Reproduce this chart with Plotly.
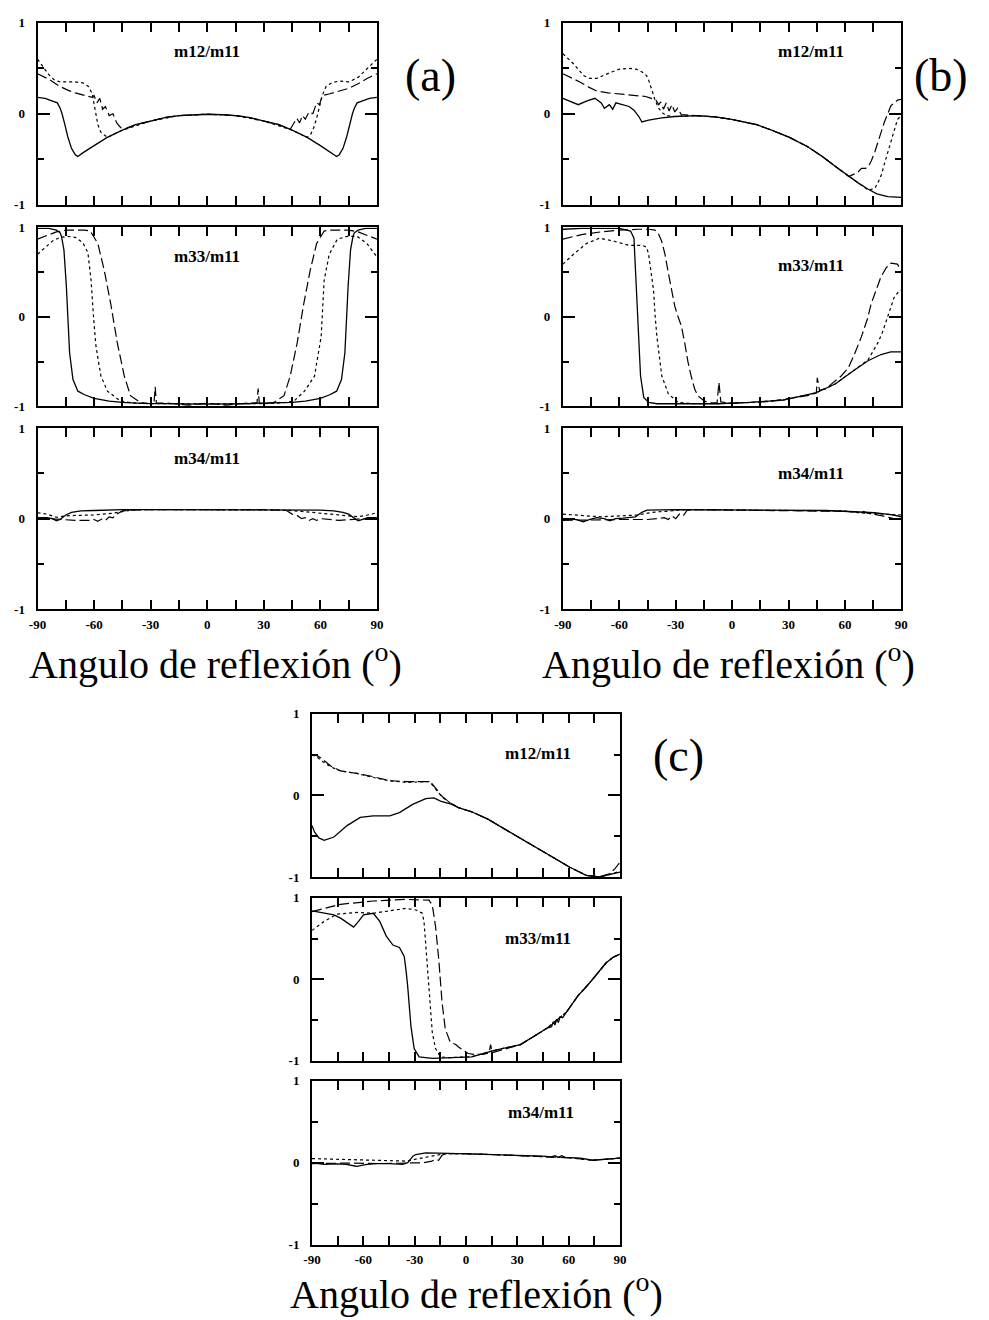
import plotly.graph_objects as go

# ---------------- data (angle in degrees, ratio values) ----------------
# (a) m12/m11
a12_solid_x = [-90, -86, -82, -79.5, -78, -77, -75.5, -74, -72, -70, -68.6, -66, -60, -53, -45, -38, -30, -22, -15, -8, 0, 8, 15, 22, 30, 38, 45, 53, 60, 66, 68.6, 70, 72, 74, 75.5, 77, 78, 79.5, 82, 86, 90]
a12_solid_y = [0.18, 0.17, 0.14, 0.12, 0.06, 0.0, -0.12, -0.25, -0.38, -0.45, -0.47, -0.43, -0.35, -0.26, -0.18, -0.12, -0.08, -0.04, -0.02, -0.01, -0.005, -0.01, -0.02, -0.04, -0.08, -0.12, -0.18, -0.26, -0.35, -0.43, -0.47, -0.45, -0.38, -0.25, -0.12, 0.0, 0.06, 0.12, 0.14, 0.17, 0.18]
a12_dash_x = [-90, -84, -79, -74, -70, -65, -61, -60, -58.5, -57, -55.5, -54, -52, -50, -48, -46, -44, -38, -30, -22, -15, -8, 0, 8, 15, 22, 30, 38, 44, 46, 47.5, 49, 50.5, 52, 54, 56, 58, 59.5, 61, 65, 70, 75, 80, 85, 90]
a12_dash_y = [0.44, 0.38, 0.31, 0.26, 0.23, 0.2, 0.18, 0.2, 0.12, 0.17, 0.05, 0.08, -0.02, 0.0, -0.1, -0.15, -0.17, -0.12, -0.08, -0.04, -0.02, -0.01, -0.005, -0.01, -0.02, -0.04, -0.08, -0.12, -0.17, -0.1, -0.05, -0.1, -0.02, -0.06, 0.02, 0.0, 0.12, 0.1, 0.2, 0.22, 0.25, 0.28, 0.33, 0.39, 0.44]
a12_dot_x = [-90, -87, -84, -81, -78, -74, -70, -66, -63, -61, -59.5, -58, -56.5, -55, -53, -45, -30, -15, 0, 15, 30, 45, 53, 55, 56.5, 58, 59.5, 61, 63, 66, 70, 75, 80, 85, 90]
a12_dot_y = [0.6, 0.52, 0.43, 0.37, 0.35, 0.35, 0.35, 0.34, 0.3, 0.22, 0.05, -0.12, -0.2, -0.23, -0.26, -0.18, -0.08, -0.02, -0.005, -0.02, -0.08, -0.18, -0.26, -0.22, -0.15, -0.05, 0.08, 0.2, 0.3, 0.34, 0.36, 0.35, 0.4, 0.5, 0.6]

# (a) m33/m11
a33_solid_x = [-90, -84, -80, -78, -77.3, -76, -74.7, -73, -71.2, -68.6, -65, -60, -52, -45, -35, -20, 0, 20, 35, 45, 52, 60, 65, 68.6, 71.2, 73, 74.7, 76, 77.3, 78, 80, 84, 90]
a33_solid_y = [0.99, 0.99, 0.97, 0.94, 0.9, 0.75, 0.34, -0.4, -0.7, -0.83, -0.87, -0.91, -0.94, -0.955, -0.965, -0.97, -0.975, -0.97, -0.965, -0.955, -0.94, -0.91, -0.87, -0.83, -0.7, -0.4, 0.34, 0.75, 0.9, 0.94, 0.97, 0.99, 0.99]
a33_dash_x = [-90, -85, -80, -75, -70, -65, -62, -58, -54.6, -51.2, -47.7, -44, -40.7, -35.5, -30, -28.2, -27.6, -27, -20, -10, 0, 10, 20, 26.4, 27, 27.6, 30, 35.5, 40.7, 44, 47.7, 51.2, 54.6, 58, 62, 65, 70, 75, 80, 85, 90]
a33_dash_y = [0.87, 0.91, 0.95, 0.97, 0.97, 0.97, 0.96, 0.82, 0.52, 0.15, -0.29, -0.66, -0.88, -0.955, -0.97, -0.96, -0.78, -0.96, -0.965, -0.985, -0.965, -0.985, -0.965, -0.96, -0.8, -0.96, -0.97, -0.955, -0.88, -0.66, -0.29, 0.15, 0.52, 0.82, 0.96, 0.97, 0.97, 0.97, 0.95, 0.91, 0.87]
a33_dot_x = [-90, -86, -82, -78, -74, -70, -66, -63.3, -61.6, -60.2, -59, -56.4, -52.9, -46, -40, -30, -15, 0, 15, 30, 40, 46, 51.6, 56.9, 60.4, 62, 64.7, 69, 74.3, 79.5, 84.7, 90]
a33_dot_y = [0.7, 0.78, 0.85, 0.89, 0.9, 0.89, 0.83, 0.72, 0.41, -0.03, -0.33, -0.66, -0.83, -0.94, -0.96, -0.97, -0.97, -0.975, -0.97, -0.97, -0.96, -0.94, -0.83, -0.66, -0.22, 0.41, 0.7, 0.87, 0.9, 0.9, 0.82, 0.67]

# (a) m34/m11
a34_solid_x = [-90, -85, -82, -80, -78, -75, -72, -67, -60, -45, -30, 0, 30, 45, 60, 67, 72, 75, 78, 80, 82, 85, 90]
a34_solid_y = [0.01, 0.01, 0.0, -0.025, -0.01, 0.04, 0.07, 0.085, 0.09, 0.1, 0.1, 0.1, 0.1, 0.1, 0.095, 0.085, 0.07, 0.05, 0.0, -0.025, -0.01, 0.01, 0.01]
a34_dash_x = [-90, -80, -70, -62, -60, -58, -56, -54, -52, -50, -48, -45, -40, -30, 0, 30, 42, 45, 48, 50, 52, 54, 56, 58, 60, 64, 70, 80, 90]
a34_dash_y = [0.0, -0.005, -0.02, -0.02, -0.01, -0.03, -0.005, -0.02, 0.02, 0.01, 0.05, 0.085, 0.095, 0.1, 0.1, 0.1, 0.09, 0.05, 0.03, 0.0, 0.01, -0.02, 0.0, -0.02, 0.0, -0.01, -0.02, -0.005, 0.0]
a34_dot_x = [-90, -85, -80, -75, -70, -60, -50, -45, -40, -30, 0, 30, 40, 50, 60, 70, 80, 85, 90]
a34_dot_y = [0.065, 0.05, 0.015, 0.03, 0.035, 0.04, 0.06, 0.08, 0.095, 0.1, 0.1, 0.1, 0.095, 0.08, 0.06, 0.04, 0.02, 0.04, 0.065]

# (b) m12/m11
b12_solid_x = [-90, -85.3, -81.8, -77.5, -73, -69.6, -67.9, -65.3, -63.5, -61.8, -58.3, -54.8, -52.2, -49.6, -48, -44.4, -37.4, -30.5, -18.3, -9, -0.9, 6.1, 13.1, 21, 30.5, 40, 48, 55, 62, 67, 72.4, 77, 82.8, 87, 90]
b12_solid_y = [0.17, 0.13, 0.1, 0.14, 0.17, 0.12, 0.06, 0.1, 0.05, 0.12, 0.1, 0.08, 0.04, -0.03, -0.09, -0.07, -0.045, -0.03, -0.02, -0.035, -0.06, -0.09, -0.12, -0.18, -0.26, -0.36, -0.47, -0.58, -0.69, -0.76, -0.83, -0.88, -0.91, -0.92, -0.92]
b12_dash_x = [-90, -85, -81, -76, -72, -66, -60, -52, -46, -43, -40.5, -39, -38, -36.5, -35, -33.5, -32, -30.5, -29, -27, -18.3, -9, -0.9, 6.1, 13.1, 21, 30.5, 40, 48, 55, 62, 65.2, 67, 68.8, 71, 72.4, 74, 75.9, 78.5, 81, 84.5, 88, 90]
b12_dash_y = [0.44, 0.39, 0.35, 0.29, 0.25, 0.23, 0.22, 0.2, 0.19, 0.17, 0.15, 0.1, 0.13, 0.05, 0.12, 0.03, 0.1, 0.02, 0.06, -0.01, -0.02, -0.035, -0.06, -0.09, -0.12, -0.18, -0.26, -0.36, -0.47, -0.58, -0.69, -0.66, -0.64, -0.6, -0.6, -0.58, -0.52, -0.42, -0.25, -0.09, 0.09, 0.15, 0.16]
b12_dot_x = [-90, -84.4, -79, -75.7, -72, -68.8, -64, -60, -55, -51, -47.9, -45.5, -44.4, -42.5, -41, -39, -37, -35, -30.5, -18.3, -9, -0.9, 6.1, 13.1, 21, 30.5, 40, 48, 55, 62, 67, 72.4, 75.9, 77.5, 79.4, 81, 82.8, 84.5, 86.3, 88, 90]
b12_dot_y = [0.66, 0.55, 0.42, 0.39, 0.39, 0.42, 0.46, 0.49, 0.5, 0.49, 0.46, 0.42, 0.37, 0.25, 0.15, 0.06, 0.01, -0.02, -0.03, -0.02, -0.035, -0.06, -0.09, -0.12, -0.18, -0.26, -0.36, -0.47, -0.58, -0.69, -0.76, -0.84, -0.82, -0.76, -0.67, -0.55, -0.42, -0.29, -0.17, -0.06, -0.02]

# (b) m33/m11
b33_solid_x = [-90, -80, -60, -54, -52.2, -51.4, -50, -48.7, -47, -44.4, -40, -20, -7.8, 9.6, 27, 44.4, 54.8, 65.3, 72.3, 79.2, 84.4, 90]
b33_solid_y = [0.98, 0.99, 0.99, 0.96, 0.88, 0.52, -0.22, -0.66, -0.9, -0.955, -0.97, -0.975, -0.97, -0.955, -0.93, -0.85, -0.75, -0.59, -0.49, -0.42, -0.39, -0.39]
b33_dash_x = [-90, -80, -70, -60, -50, -44.4, -41, -39.2, -37.5, -35.7, -34, -32.2, -30.5, -28.7, -27, -25.2, -23.5, -21.8, -20, -18.3, -14.8, -12, -8, -7, -6, 0, 20, 40, 44.8, 45.3, 46.5, 50, 54.8, 58, 61.8, 65, 68.8, 72, 74, 76.5, 79.2, 82, 84.4, 87.9, 90]
b33_dash_y = [0.87, 0.92, 0.95, 0.97, 0.98, 0.98, 0.97, 0.93, 0.85, 0.7, 0.5, 0.3, 0.12, 0.0, -0.1, -0.29, -0.5, -0.66, -0.8, -0.88, -0.94, -0.96, -0.96, -0.73, -0.95, -0.965, -0.945, -0.88, -0.85, -0.68, -0.82, -0.8, -0.72, -0.66, -0.57, -0.42, -0.22, -0.02, 0.15, 0.3, 0.45, 0.55, 0.6, 0.59, 0.52]
b33_dot_x = [-90, -84.4, -77.5, -70.5, -63.5, -54.8, -47.9, -45.5, -44.4, -43, -41.8, -40.9, -40, -37.4, -33.9, -28.7, -20, -7.8, 9.6, 27, 44.4, 54.8, 60, 65.3, 72.3, 77.5, 80, 82.7, 86.2, 88.5, 90]
b33_dot_y = [0.59, 0.7, 0.82, 0.88, 0.85, 0.8, 0.8, 0.78, 0.7, 0.5, 0.3, 0.0, -0.22, -0.66, -0.86, -0.955, -0.97, -0.97, -0.955, -0.93, -0.85, -0.75, -0.67, -0.59, -0.48, -0.29, -0.17, 0.0, 0.22, 0.28, 0.3]

# (b) m34/m11
b34_solid_x = [-90, -82.7, -79.2, -76, -72, -68, -65, -62, -58, -54, -51.4, -48, -45.3, -30, 0, 30, 50, 65, 75.7, 82, 86, 90]
b34_solid_y = [0.0, -0.01, -0.035, -0.01, 0.01, 0.0, -0.025, 0.0, 0.005, 0.01, 0.02, 0.07, 0.094, 0.1, 0.095, 0.094, 0.09, 0.076, 0.065, 0.05, 0.04, 0.02]
b34_dash_x = [-90, -80, -70, -60, -50, -45, -40, -36, -34, -32, -30, -28, -26, -24, -22, 0, 30, 60, 66, 68, 70, 72, 80, 86, 90]
b34_dash_y = [-0.02, -0.015, -0.015, -0.01, -0.01, -0.01, 0.0, 0.01, -0.01, 0.03, 0.0, 0.05, 0.03, 0.09, 0.1, 0.095, 0.094, 0.08, 0.075, 0.05, 0.08, 0.06, 0.03, 0.0, -0.01]
b34_dot_x = [-90, -80, -70, -60, -50, -45, -40, -35, -30, -25, 0, 30, 60, 70, 80, 90]
b34_dot_y = [0.05, 0.035, 0.02, 0.03, 0.04, 0.06, 0.075, 0.08, 0.09, 0.1, 0.095, 0.094, 0.085, 0.06, 0.05, 0.04]

# (c) m12/m11
c12_solid_x = [-90, -88.5, -86, -82.9, -77.2, -69.5, -61.8, -54.2, -44.6, -38.9, -31.2, -23.5, -18.8, -14.9, -8.2, -4.4, 3.3, 12.8, 22.4, 32, 41.6, 51.1, 60.7, 70.3, 77.9, 83.7, 90]
c12_solid_y = [-0.37, -0.45, -0.52, -0.55, -0.51, -0.37, -0.27, -0.25, -0.25, -0.21, -0.11, -0.04, -0.03, -0.07, -0.11, -0.15, -0.2, -0.29, -0.41, -0.53, -0.65, -0.77, -0.88, -0.98, -1.0, -0.97, -0.94]
c12_dash_x = [-90, -88, -84.8, -79, -73.3, -63.8, -54.2, -44.6, -35, -21.6, -19.7, -17.8, -15.9, -14, -10, -4.4, 3.3, 12.8, 22.4, 32, 41.6, 51.1, 60.7, 70.3, 77.9, 83.7, 87, 90]
c12_dash_y = [0.5, 0.5, 0.46, 0.36, 0.3, 0.27, 0.23, 0.18, 0.17, 0.17, 0.14, 0.09, 0.03, -0.01, -0.08, -0.15, -0.2, -0.29, -0.41, -0.53, -0.65, -0.77, -0.88, -0.98, -1.0, -0.96, -0.9, -0.82]
c12_dot_x = [-90, -87, -84, -79, -73.3, -63.8, -54.2, -44.6, -35, -21.6, -19.7, -17.8, -15.9, -14, -10, -4.4, 3.3, 12.8, 22.4, 32, 41.6, 51.1, 60.7, 70.3, 77.9, 83.7, 90]
c12_dot_y = [0.5, 0.47, 0.42, 0.35, 0.3, 0.27, 0.22, 0.18, 0.16, 0.17, 0.13, 0.08, 0.03, -0.02, -0.08, -0.15, -0.2, -0.29, -0.41, -0.53, -0.65, -0.77, -0.88, -0.98, -1.0, -0.97, -0.93]

# (c) m33/m11
c33_solid_x = [-90, -82.9, -77.2, -73.3, -65.7, -62.8, -59.9, -54.2, -50.4, -46.6, -42.7, -38.9, -36.1, -35, -34.1, -32.2, -30.3, -27.4, -19.7, 3.3, 16.6, 31.9, 39.6, 47.3, 50, 51, 52, 53, 54, 55, 56.5, 58.8, 62, 65.5, 70, 74.1, 78, 81.8, 86, 90]
c33_solid_y = [0.84, 0.81, 0.79, 0.75, 0.64, 0.71, 0.79, 0.81, 0.71, 0.53, 0.42, 0.39, 0.28, 0.1, -0.08, -0.57, -0.85, -0.95, -0.97, -0.95, -0.87, -0.8, -0.7, -0.6, -0.58, -0.52, -0.56, -0.49, -0.53, -0.46, -0.47, -0.4, -0.3, -0.2, -0.1, 0.0, 0.1, 0.2, 0.27, 0.31]
c33_dash_x = [-90, -73.3, -54.2, -35, -21.6, -19.7, -17.8, -15.9, -14, -12.1, -9.2, -6, -4.4, -1, 1.3, 5, 10, 13.5, 14.4, 15.3, 20, 31.9, 39.6, 47.3, 58.8, 65.5, 74.1, 81.8, 86, 90]
c33_dash_y = [0.83, 0.92, 0.96, 0.98, 0.97, 0.91, 0.65, 0.24, -0.28, -0.61, -0.77, -0.8, -0.83, -0.88, -0.91, -0.92, -0.92, -0.9, -0.8, -0.9, -0.87, -0.8, -0.7, -0.6, -0.4, -0.2, 0.0, 0.2, 0.27, 0.31]
c33_dot_x = [-90, -82.9, -75.3, -63.8, -54.2, -44.6, -35, -29.3, -25.5, -24.5, -23.5, -21.6, -19.7, -17.8, -14.9, -10, 3.3, 16.6, 31.9, 39.6, 47.3, 58.8, 65.5, 74.1, 81.8, 86, 90]
c33_dot_y = [0.6, 0.71, 0.8, 0.82, 0.81, 0.84, 0.87, 0.85, 0.81, 0.7, 0.44, -0.16, -0.65, -0.85, -0.95, -0.96, -0.95, -0.87, -0.8, -0.7, -0.6, -0.4, -0.2, 0.0, 0.2, 0.27, 0.31]

# (c) m34/m11
c34_solid_x = [-90, -83, -75, -70, -65, -63.8, -58, -52, -45, -40, -37, -34, -31, -29.3, -23.5, -10, 0, 15, 32, 45, 50, 52, 54, 56, 58, 60.7, 67, 74, 80, 90]
c34_solid_y = [0.0, -0.02, -0.015, -0.02, -0.04, -0.045, -0.02, -0.01, -0.01, -0.02, -0.02, 0.0, 0.08, 0.1, 0.12, 0.115, 0.11, 0.1, 0.085, 0.08, 0.07, 0.085, 0.065, 0.085, 0.065, 0.06, 0.055, 0.03, 0.04, 0.056]
c34_dash_x = [-90, -70, -50, -35, -25, -20, -18, -16, -14, -12, 0, 15, 32, 45, 60.7, 74, 90]
c34_dash_y = [-0.01, -0.005, -0.01, 0.0, 0.0, 0.02, 0.04, 0.03, 0.09, 0.11, 0.11, 0.1, 0.085, 0.08, 0.06, 0.03, 0.056]
c34_dot_x = [-90, -70, -50, -35, -30, -20, -15, -10, 0, 15, 32, 45, 60.7, 74, 90]
c34_dot_y = [0.05, 0.04, 0.03, 0.02, 0.04, 0.08, 0.1, 0.11, 0.11, 0.1, 0.085, 0.08, 0.06, 0.03, 0.056]

x_ticks = [-90, -60, -30, 0, 30, 60, 90]
x_ticktext = ["-90", "-60", "-30", "0", "30", "60", "90"]
y_ticks = [-1, 0, 1]
y_ticktext = ["-1", "0", "1"]
panel_labels = ["m12/m11", "m33/m11", "m34/m11"]
group_labels = ["(a)", "(b)", "(c)"]
x_title = "Angulo de reflexión (<sup>o</sup>)"

# ---------------- layout geometry ----------------
W, H = 989, 1320
group_x_px = {"a": (29, 374), "b": (563, 907), "c": (308, 621)}
group_rows_px = {
    "a": [(16, 200), (223, 404), (426, 609)],
    "b": [(16, 200), (223, 404), (426, 609)],
    "c": [(715, 880), (901, 1066), (1086, 1252)],
}
label_pos = {  # (x in data, y in data) for the mXX/m11 labels
    "a": [(0, 0.68), (0, 0.68), (0, 0.66)],
    "b": [(42, 0.68), (42, 0.57), (42, 0.5)],
    "c": [(42, 0.515), (42, 0.5), (44, 0.61)],
}
group_label_px = [(428, 69), (947, 69), (681, 757)]
title_px = [(210, 662), (731, 662), (475, 1299)]

data = {
    "a": [(a12_solid_x, a12_solid_y, a12_dash_x, a12_dash_y, a12_dot_x, a12_dot_y),
          (a33_solid_x, a33_solid_y, a33_dash_x, a33_dash_y, a33_dot_x, a33_dot_y),
          (a34_solid_x, a34_solid_y, a34_dash_x, a34_dash_y, a34_dot_x, a34_dot_y)],
    "b": [(b12_solid_x, b12_solid_y, b12_dash_x, b12_dash_y, b12_dot_x, b12_dot_y),
          (b33_solid_x, b33_solid_y, b33_dash_x, b33_dash_y, b33_dot_x, b33_dot_y),
          (b34_solid_x, b34_solid_y, b34_dash_x, b34_dash_y, b34_dot_x, b34_dot_y)],
    "c": [(c12_solid_x, c12_solid_y, c12_dash_x, c12_dash_y, c12_dot_x, c12_dot_y),
          (c33_solid_x, c33_solid_y, c33_dash_x, c33_dash_y, c33_dot_x, c33_dot_y),
          (c34_solid_x, c34_solid_y, c34_dash_x, c34_dash_y, c34_dot_x, c34_dot_y)],
}

SERIF = "Liberation Serif"
tickfont = dict(family=SERIF, size=13, color="black", weight="bold")

fig = go.Figure()
layout = dict(width=W, height=H, margin=dict(l=0, r=0, t=0, b=0),
              paper_bgcolor="white", plot_bgcolor="white", showlegend=False,
              annotations=[])

idx = 0
for g in ["a", "b", "c"]:
    x0, x1 = group_x_px[g]
    for r in range(3):
        idx += 1
        y0, y1 = group_rows_px[g][r]
        xn = "x" if idx == 1 else f"x{idx}"
        yn = "y" if idx == 1 else f"y{idx}"
        xkey = "xaxis" if idx == 1 else f"xaxis{idx}"
        ykey = "yaxis" if idx == 1 else f"yaxis{idx}"
        layout[xkey] = dict(
            domain=[x0 / W, x1 / W], anchor=yn, range=[-90, 90],
            showline=True, mirror="allticks", linecolor="black", linewidth=2,
            ticks="inside", ticklen=9, tickwidth=1.5, tickcolor="black",
            tickvals=x_ticks, ticktext=x_ticktext, showticklabels=(r == 2),
            tickfont=tickfont, ticklabelstandoff=2,
            showgrid=False, zeroline=False, fixedrange=True,
            minor=dict(dtick=15, tick0=0, ticks="inside", ticklen=9, tickwidth=1.5,
                       tickcolor="black", showgrid=False),
        )
        layout[ykey] = dict(
            domain=[1 - y1 / H, 1 - y0 / H], anchor=xn, range=[-1, 1],
            showline=True, mirror="allticks", linecolor="black", linewidth=2,
            ticks="inside", ticklen=12, tickwidth=1.5, tickcolor="black",
            tickvals=y_ticks, ticktext=y_ticktext, tickfont=tickfont,
            showgrid=False, zeroline=False, fixedrange=True, ticklabelstandoff=8,
            minor=dict(dtick=0.5, tick0=0, ticks="inside", ticklen=6, tickwidth=1.5,
                       tickcolor="black", showgrid=False),
        )
        sx, sy, dx, dy, ox, oy = data[g][r]
        fig.add_trace(go.Scatter(x=dx, y=dy, mode="lines", xaxis=xn, yaxis=yn,
                                 line=dict(color="black", width=1.2, dash="10px,4px")))
        fig.add_trace(go.Scatter(x=ox, y=oy, mode="lines", xaxis=xn, yaxis=yn,
                                 line=dict(color="black", width=1.2, dash="3px,3px")))
        fig.add_trace(go.Scatter(x=sx, y=sy, mode="lines", xaxis=xn, yaxis=yn,
                                 line=dict(color="black", width=1.3)))
        lx, ly = label_pos[g][r]
        layout["annotations"].append(dict(
            x=lx, y=ly, xref=xn, yref=yn, text=panel_labels[r], showarrow=False,
            xanchor="center", yanchor="middle",
            font=dict(family=SERIF, size=17, color="black", weight="bold")))

# group letters
for txt, (px, py) in zip(group_labels, group_label_px):
    layout["annotations"].append(dict(
        x=px / W, y=1 - py / H, xref="paper", yref="paper", text=txt, showarrow=False,
        xanchor="center", yanchor="middle",
        font=dict(family=SERIF, size=46, color="black")))

# x-axis titles
for (px, py) in title_px:
    layout["annotations"].append(dict(
        x=px / W, y=1 - py / H, xref="paper", yref="paper", text=x_title, showarrow=False,
        xanchor="center", yanchor="middle",
        font=dict(family=SERIF, size=40, color="black")))

fig.update_layout(**layout)
fig.write_html("out.html")
